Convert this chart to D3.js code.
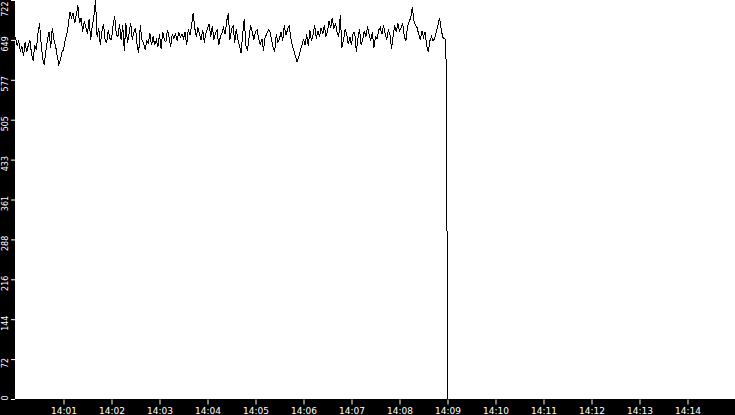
<!DOCTYPE html>
<html>
<head>
<meta charset="utf-8">
<script src="https://cdn.jsdelivr.net/npm/d3@7"></script>
<style>
  body { margin: 0; background: #fff; }
  svg { display: block; }
</style>
</head>
<body>
<svg width="735" height="415"></svg>
<script>
// samples every 2 seconds from 14:00:00 to 14:08:58
var startTime = '14:00:00';
var stepSeconds = 2;
var values = [
  655, 640, 648, 630, 638, 620, 645, 628, 640, 650,
  625, 612, 640, 632, 660, 680, 645, 615, 605, 630,
  650, 664, 635, 672, 650, 640, 622, 606, 612, 628,
  632, 648, 660, 676, 700, 690, 698, 680, 695, 712,
  680, 690, 665, 684, 672, 660, 688, 650, 675, 692,
  722, 655, 672, 640, 665, 678, 650, 645, 668, 652,
  650, 676, 692, 660, 655, 678, 650, 676, 630, 680,
  645, 662, 680, 650, 664, 672, 640, 626, 676, 650,
  644, 632, 648, 644, 662, 640, 656, 640, 650, 638,
  660, 634, 664, 650, 646, 668, 655, 637, 660, 652,
  662, 648, 664, 655, 660, 652, 664, 640, 670, 658,
  675, 698, 672, 655, 673, 660, 650, 668, 645, 662,
  670, 678, 656, 674, 650, 662, 668, 640, 655, 662,
  672, 660, 684, 698, 650, 668, 676, 645, 670, 650,
  640, 626, 660, 688, 640, 630, 655, 676, 664, 650,
  664, 668, 652, 640, 652, 630, 655, 660, 668, 666,
  650, 636, 630, 660, 645, 652, 664, 648, 676, 658,
  668, 676, 654, 640, 630, 620, 610, 618, 630, 640,
  652, 640, 660, 638, 668, 648, 660, 676, 652, 666,
  655, 672, 660, 676, 656, 666, 684, 672, 690, 670,
  680, 664, 655, 694, 636, 650, 668, 660, 642, 655,
  640, 662, 664, 628, 652, 670, 640, 650, 666, 656,
  674, 660, 648, 664, 636, 656, 652, 668, 672, 660,
  676, 662, 650, 668, 660, 634, 656, 676, 664, 680,
  666, 672, 680, 656, 648, 674, 682, 690, 710, 684,
  676, 672, 660, 650, 666, 655, 664, 640, 628, 648,
  656, 648, 652, 664, 676, 690, 670, 655, 652, 650
];
// the drop at the end of the run
var tailTimes = ['14:08:59.300', '14:09:00.300'];
var tailValues = [332, 0];

var yMax = 722;
var yTicks = [0, 72.2, 144.4, 216.6, 288.8, 361, 433.2, 505.4, 577.6, 649.8, 722];
var xTicks = ['14:01', '14:02', '14:03', '14:04', '14:05', '14:06', '14:07',
              '14:08', '14:09', '14:10', '14:11', '14:12', '14:13', '14:14'];
var xStart = '14:00';
var xEnd = '14:15';

var svg = d3.select('svg');
var width = +svg.attr('width');
var height = +svg.attr('height');
var left = 15;
var bottom = 399;

var parseHMS = d3.timeParse('%Y-%m-%d %H:%M:%S');
var parseHMSL = d3.timeParse('%Y-%m-%d %H:%M:%S.%L');
var parseHM = d3.timeParse('%Y-%m-%d %H:%M');
var day = '2020-01-01 ';

var t0 = parseHMS(day + startTime);
var points = values.map(function(v, i) {
    return { t: d3.timeSecond.offset(t0, i * stepSeconds), v: v };
});
tailTimes.forEach(function(s, i) {
    points.push({ t: parseHMSL(day + s), v: tailValues[i] });
});

var x = d3.scaleTime()
    .domain([parseHM(day + xStart), parseHM(day + xEnd)])
    .range([left + 0.5, width + 0.5]);
var y = d3.scaleLinear()
    .domain([0, yMax])
    .range([bottom, 0]);

// the data line
var line = d3.line()
    .x(function(d) { return x(d.t); })
    .y(function(d) { return y(d.v); });

svg.append('path')
    .datum(points)
    .attr('d', line)
    .attr('fill', 'none')
    .attr('stroke', '#000')
    .attr('stroke-width', 1)
    .attr('shape-rendering', 'crispEdges');

// black axis bands
svg.append('rect')
    .attr('x', 0).attr('y', 0)
    .attr('width', left).attr('height', height)
    .attr('fill', '#000');
svg.append('rect')
    .attr('x', 0).attr('y', bottom)
    .attr('width', width).attr('height', height - bottom)
    .attr('fill', '#000');

// bottom axis
var xAxis = svg.append('g')
    .attr('transform', 'translate(0,' + (bottom + 0.5) + ')')
    .call(d3.axisBottom(x)
        .tickValues(xTicks.map(function(s) { return parseHM(day + s); }))
        .tickFormat(d3.timeFormat('%H:%M'))
        .tickSize(5));
xAxis.select('.domain').remove();
xAxis.selectAll('line').attr('stroke', '#fff');
xAxis.selectAll('text')
    .attr('fill', '#fff')
    .style('font-family', 'DejaVu Sans')
    .style('font-size', '9px');

// left axis, labels turned on their side
var yAxis = svg.append('g')
    .attr('transform', 'translate(' + left + ',0)')
    .call(d3.axisLeft(y)
        .tickValues(yTicks)
        .tickFormat(function(d) { return Math.floor(d); })
        .tickSize(4));
yAxis.select('.domain').remove();
yAxis.selectAll('line').attr('stroke', '#fff');
yAxis.selectAll('text')
    .attr('fill', '#fff')
    .attr('text-anchor', 'middle')
    .attr('dy', null)
    .attr('y', -7.5)
    .attr('transform', 'rotate(-90)')
    .style('font-family', 'DejaVu Sans')
    .style('font-size', '8px')
    .attr('x', function(d) {
        // keep end labels inside the band
        var w = this.getComputedTextLength();
        var c = y(d) + 3.5;
        if (c - w / 2 < 1) c = 1 + w / 2;
        if (c + w / 2 > bottom + 1) c = bottom + 1 - w / 2;
        return -(c - y(d));
    });
</script>
</body>
</html>
